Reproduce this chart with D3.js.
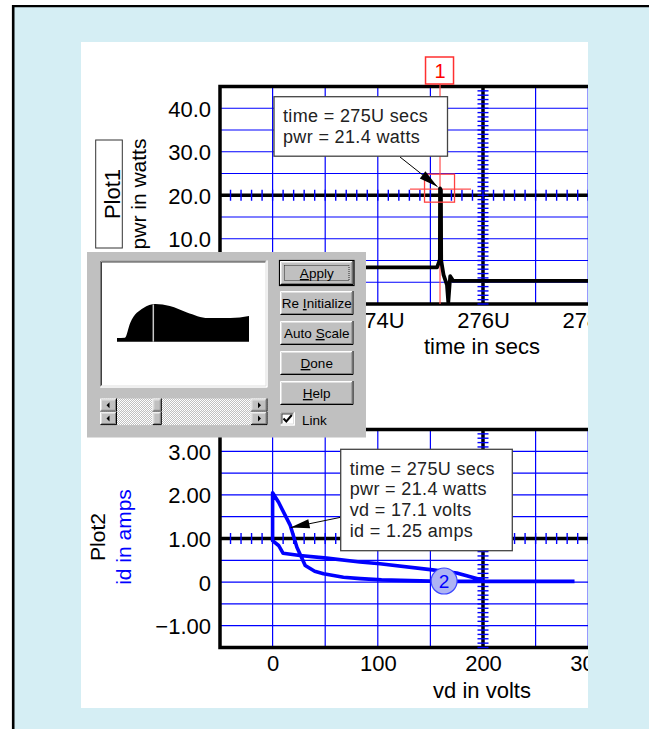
<!DOCTYPE html>
<html>
<head>
<meta charset="utf-8">
<script src="https://cdn.jsdelivr.net/npm/d3@7"></script>
<style>
  body { margin: 0; background: #fff; }
  text { font-family: "Liberation Sans", Arial, sans-serif; }
</style>
</head>
<body>
<div id="chart"></div>
<script>
// ---- values ----

// Plot1: pwr (watts) against time (micro seconds)
let pwrTime  = [271.0, 275.126, 275.180, 275.183, 275.200, 275.205, 275.250, 275.315, 275.340, 275.358, 275.377, 275.434, 278.0];
let pwrWatts = [3.42, 3.42, 5.2, 21.6, 21.2, 5.0, 1.7, -0.6, -4.6, -1.7, 1.4, 0.3, 0.3];

// Plot2: id (amps) against vd (volts), one closed-ish loop
let idVolts = [200, 175, 152, 102, 83, 51.5, 26, 10, 5.7, 0, 0, 5.7, 16.8, 23.1, 31, 40, 48.4, 67.3, 83.4, 103.5, 158.6, 287];
let idAmps  = [0.04, 0.21, 0.28, 0.42, 0.46, 0.55, 0.61, 0.66, 0.84, 0.95, 2.05, 1.83, 1.30, 0.80, 0.38, 0.25, 0.19, 0.11, 0.08, 0.05, 0.016, 0.016];

// tick labels (those hidden under the dialog in the original are left out)
let topYTicks = [40, 30, 20, 10];
let topXTicks = [274, 276, 278];
let botYTicks = [3, 2, 1, 0, -1];
let botXTicks = [0, 100, 200, 300];

// cursor readouts
let cursor1 = { time: 275.183, pwr: 21.4 };
let cursor2 = { vd: 17.1, id: 1.25 };
let marker2 = { vd: 163, id: 0.025 };
let tip1Lines = ["time = 275U secs", "pwr = 21.4 watts"];
let tip2Lines = ["time = 275U secs", "pwr = 21.4 watts", "vd = 17.1 volts", "id = 1.25 amps"];

// scaling dialog: thumbnail of the whole waveform
let previewT = [0, 6, 10, 20, 29, 40, 53, 69, 86, 100];
let previewV = [0.9, 1.0, 4.7, 8.4, 9.4, 8.9, 7.3, 5.9, 5.9, 6.4];
let previewCursor = 27.5;
let buttonLabels = ["Apply", "Re Initialize", "Auto Scale", "Done", "Help"];
let buttonKeys   = [0, 3, 5, 0, 0];

// ---- layout ----
let svgWidth = 649, svgHeight = 729;
let panel = { x: 81, y: 42, w: 507, h: 666 };
let plotLeft = 220, plotRight = 588;

let svg = d3.select("#chart").append("svg")
  .attr("width", svgWidth)
  .attr("height", svgHeight);

// window background + frame
svg.append("rect").attr("width", svgWidth).attr("height", svgHeight).attr("fill", "#fff");
svg.append("rect").attr("x", 13).attr("y", 6).attr("width", svgWidth - 13).attr("height", svgHeight - 6)
  .attr("fill", "#d5eef4");
svg.append("line").attr("x1", 13.2).attr("y1", 5).attr("x2", 13.2).attr("y2", svgHeight)
  .attr("stroke", "#000").attr("stroke-width", 2.6);
svg.append("line").attr("x1", 12).attr("y1", 6.2).attr("x2", svgWidth).attr("y2", 6.2)
  .attr("stroke", "#000").attr("stroke-width", 2.2);

let defs = svg.append("defs");
defs.append("clipPath").attr("id", "panelClip")
  .append("rect").attr("x", panel.x).attr("y", panel.y).attr("width", panel.w).attr("height", panel.h);

let chart = svg.append("g").attr("clip-path", "url(#panelClip)");
chart.append("rect").attr("x", panel.x).attr("y", panel.y).attr("width", panel.w).attr("height", panel.h)
  .attr("fill", "#fff");

// scales (both plots share the same horizontal pixel grid)
let xTop = d3.scaleLinear().domain([271, 276]).range([plotLeft, 483]);
let yTop = d3.scaleLinear().domain([-5, 45]).range([304, 86.5]);
let xBot = d3.scaleLinear().domain([-50, 200]).range([plotLeft, 483]);
let yBot = d3.scaleLinear().domain([-1.5, 3.5]).range([647.5, 429.5]);

function drawPlot(g, x, y, o) {
  let x0 = x.range()[0];
  let yb = y.range()[0], yt = y.range()[1];

  // grid
  g.selectAll(null).data(o.gridX).enter().append("line")
    .attr("x1", d => x(d)).attr("x2", d => x(d))
    .attr("y1", yt).attr("y2", yb)
    .attr("stroke", "#0000ff").attr("stroke-width", 1.2);
  g.selectAll(null).data(o.gridY).enter().append("line")
    .attr("x1", x0).attr("x2", plotRight + 5)
    .attr("y1", d => y(d)).attr("y2", d => y(d))
    .attr("stroke", "#0000ff").attr("stroke-width", 1.2);

  // frame (left, top, bottom)
  g.append("path")
    .attr("d", `M${plotRight + 5},${yt}H${x0}V${yb}H${plotRight + 5}`)
    .attr("fill", "none").attr("stroke", "#000").attr("stroke-width", 3.5);

  // heavy axes through the origin point
  g.append("line").attr("x1", x0).attr("x2", plotRight + 5)
    .attr("y1", y(o.axisY)).attr("y2", y(o.axisY))
    .attr("stroke", "#000").attr("stroke-width", 3.5);
  g.append("line").attr("x1", x(o.axisX)).attr("x2", x(o.axisX))
    .attr("y1", yt).attr("y2", yb)
    .attr("stroke", "#000").attr("stroke-width", 3.5);

  // minor ticks along the heavy axes
  g.selectAll(null).data(o.minorX).enter().append("line")
    .attr("x1", d => x(d)).attr("x2", d => x(d))
    .attr("y1", y(o.axisY) - 5.5).attr("y2", y(o.axisY) + 5.5)
    .attr("stroke", "#0000ff").attr("stroke-width", 1.4);
  g.selectAll(null).data(o.minorY).enter().append("line")
    .attr("x1", x(o.axisX) - 5.5).attr("x2", x(o.axisX) + 5.5)
    .attr("y1", d => y(d)).attr("y2", d => y(d))
    .attr("stroke", "#0000ff").attr("stroke-width", 1.4);

  // tick labels via d3 axes
  let yAxis = d3.axisLeft(y).tickValues(o.yTicks).tickSize(0).tickPadding(0).tickFormat(o.yFormat);
  let ya = g.append("g").attr("transform", `translate(${x0 - 9},0)`).call(yAxis);
  let xAxis = d3.axisBottom(x).tickValues(o.xTicks).tickSize(0).tickPadding(0).tickFormat(o.xFormat);
  let xa = g.append("g").attr("transform", `translate(0,${yb + 8})`).call(xAxis);
  [ya, xa].forEach(a => {
    a.select(".domain").remove();
    a.selectAll("text").attr("font-size", 22).attr("fill", "#000")
      .attr("font-family", '"Liberation Sans", Arial, sans-serif');
  });
  ya.selectAll("text").attr("dy", "0.36em");
  xa.selectAll("text").attr("dy", "0.71em");

  g.append("text").attr("x", x(o.axisX) - 1).attr("y", yb + 50)
    .attr("text-anchor", "middle").attr("font-size", 22).text(o.xTitle);
}

// ---- Plot1 ----
let plot1 = chart.append("g");
drawPlot(plot1, xTop, yTop, {
  gridX: d3.range(272, 279, 1), gridY: d3.range(0, 45, 5),
  axisX: 276, axisY: 20,
  minorX: d3.range(271.2, 278.4, 0.2), minorY: d3.range(-5, 45, 1),
  yTicks: topYTicks, yFormat: d3.format(".1f"),
  xTicks: topXTicks, xFormat: d => d + "U",
  xTitle: "time in secs"
});

// cursor 1 (drawn under the trace)
let cx1 = xTop(cursor1.time), cy1 = yTop(cursor1.pwr);
plot1.append("line").attr("x1", cx1).attr("x2", cx1).attr("y1", 84).attr("y2", yTop.range()[0])
  .attr("stroke", "#ff5050").attr("stroke-width", 1.2);
plot1.append("line").attr("x1", cx1 - 30).attr("x2", cx1 + 31).attr("y1", cy1).attr("y2", cy1)
  .attr("stroke", "#ff5050").attr("stroke-width", 1.2);

plot1.append("path")
  .datum(d3.zip(pwrTime, pwrWatts))
  .attr("d", d3.line().x(d => xTop(d[0])).y(d => yTop(d[1])))
  .attr("fill", "none").attr("stroke", "#000").attr("stroke-width", 3.8)
  .attr("stroke-linejoin", "round");

plot1.append("rect").attr("x", cx1 - 15.5).attr("y", cy1 - 15).attr("width", 30).attr("height", 28)
  .attr("fill", "none").attr("stroke", "#ff4040").attr("stroke-width", 1.3);
plot1.append("rect").attr("x", cx1 - 14.5).attr("y", 57).attr("width", 28).attr("height", 27)
  .attr("fill", "#fff").attr("stroke", "#ff3030").attr("stroke-width", 1.5);
plot1.append("text").attr("x", cx1).attr("y", 77.5).attr("text-anchor", "middle")
  .attr("font-size", 20).attr("fill", "#ff0000").text("1");

// Plot1 side labels
plot1.append("rect").attr("x", 95.7).attr("y", 140).attr("width", 26.6).attr("height", 108)
  .attr("fill", "#fff").attr("stroke", "#333").attr("stroke-width", 1);
plot1.append("text").attr("transform", "translate(119.5,194) rotate(-90)")
  .attr("text-anchor", "middle").attr("font-size", 22).text("Plot1");
plot1.append("text").attr("transform", "translate(145.5,194) rotate(-90)")
  .attr("text-anchor", "middle").attr("font-size", 21).text("pwr in watts");

// ---- Plot2 ----
let plot2 = chart.append("g");
drawPlot(plot2, xBot, yBot, {
  gridX: d3.range(0, 301, 50), gridY: d3.range(-1, 3.1, 0.5),
  axisX: 200, axisY: 1,
  minorX: d3.range(-40, 310, 10), minorY: d3.range(-1.5, 3.5, 0.1),
  yTicks: botYTicks, yFormat: d => d === 0 ? "0" : d3.format(".2f")(d),
  xTicks: botXTicks, xFormat: d => String(d),
  xTitle: "vd in volts"
});
plot2.append("path")
  .datum(d3.zip(idVolts, idAmps))
  .attr("d", d3.line().x(d => xBot(d[0])).y(d => yBot(d[1])))
  .attr("fill", "none").attr("stroke", "#0000ff").attr("stroke-width", 3.6)
  .attr("stroke-linejoin", "round");

plot2.append("text").attr("transform", "translate(105,537) rotate(-90)")
  .attr("text-anchor", "middle").attr("font-size", 21).text("Plot2");
plot2.append("text").attr("transform", "translate(131,537) rotate(-90)")
  .attr("text-anchor", "middle").attr("font-size", 21).attr("fill", "#0000ff").text("id in amps");

// marker 2
plot2.append("circle").attr("cx", xBot(marker2.vd)).attr("cy", yBot(marker2.id)).attr("r", 13)
  .attr("fill", "#aeb4f4").attr("stroke", "#3c46ff").attr("stroke-width", 1.2);
plot2.append("text").attr("x", xBot(marker2.vd)).attr("y", yBot(marker2.id) + 6.5)
  .attr("text-anchor", "middle").attr("font-size", 19).attr("fill", "#0000ff").text("2");

// ---- readout boxes with arrows ----
function arrow(g, x1, y1, x2, y2) {
  g.append("line").attr("x1", x1).attr("y1", y1).attr("x2", x2).attr("y2", y2)
    .attr("stroke", "#000").attr("stroke-width", 1);
  let a = Math.atan2(y2 - y1, x2 - x1), L = 19, W = 4.5;
  let bx = x2 - L * Math.cos(a), by = y2 - L * Math.sin(a);
  g.append("path")
    .attr("d", `M${x2},${y2}L${bx - W * Math.sin(a)},${by + W * Math.cos(a)}L${bx + W * Math.sin(a)},${by - W * Math.cos(a)}Z`)
    .attr("fill", "#000");
}
function readout(g, x, y, w, h, lines, lineH) {
  g.append("rect").attr("x", x).attr("y", y).attr("width", w).attr("height", h)
    .attr("fill", "#fff").attr("stroke", "#444").attr("stroke-width", 1.3);
  g.selectAll(null).data(lines).enter().append("text")
    .attr("x", x + 9).attr("y", (d, i) => y + 25.5 + i * lineH)
    .attr("font-size", 18).attr("letter-spacing", 0.35).attr("fill", "#222")
    .text(d => d);
}
arrow(chart, 400, 157, cx1 - 2.5, cy1 - 2.5);
readout(chart, 274, 96.7, 173.5, 59.5, tip1Lines, 21);

arrow(chart, 340.7, 517.3, xBot(cursor2.vd), yBot(cursor2.id));
readout(chart, 340.7, 449.3, 171.6, 101.4, tip2Lines, 20.6);

// ---- Scaling dialog (Windows 95 look) ----
let dlg = svg.append("g");
let dlgBox = { x: 87, y: 252, w: 279, h: 185.5 };
dlg.append("rect").attr("x", dlgBox.x).attr("y", dlgBox.y).attr("width", dlgBox.w).attr("height", dlgBox.h)
  .attr("fill", "#c0c0c0");

function bevel(g, x, y, w, h, sunken, fill) {
  g.append("rect").attr("x", x).attr("y", y).attr("width", w).attr("height", h).attr("fill", fill || "#c0c0c0");
  let hi = sunken ? "#808080" : "#ffffff";
  let lo = sunken ? "#ffffff" : "#000000";
  let lo2 = sunken ? "#dfdfdf" : "#808080";
  let hi2 = sunken ? "#404040" : "#dfdfdf";
  g.append("path").attr("d", `M${x + 0.5},${y + h - 1}V${y + 0.5}H${x + w - 1}`).attr("stroke", hi).attr("fill", "none");
  g.append("path").attr("d", `M${x + 1.5},${y + h - 2}V${y + 1.5}H${x + w - 2}`).attr("stroke", hi2).attr("fill", "none");
  g.append("path").attr("d", `M${x + 0.5},${y + h - 0.5}H${x + w - 0.5}V${y}`).attr("stroke", lo).attr("fill", "none");
  g.append("path").attr("d", `M${x + 1.5},${y + h - 1.5}H${x + w - 1.5}V${y + 1}`).attr("stroke", lo2).attr("fill", "none");
}

// preview window
let prevBox = { x: 100, y: 260.5, w: 167.5, h: 127 };
bevel(dlg, prevBox.x, prevBox.y, prevBox.w, prevBox.h, true, "#fff");
let xPrev = d3.scaleLinear().domain([0, 100]).range([117, 249]);
let yPrev = d3.scaleLinear().domain([0, 10]).range([341.7, 301.7]);
dlg.append("path")
  .datum(d3.zip(previewT, previewV))
  .attr("d", d3.area().x(d => xPrev(d[0])).y0(yPrev(0)).y1(d => yPrev(d[1])).curve(d3.curveMonotoneX))
  .attr("fill", "#000");
dlg.append("line").attr("x1", xPrev(previewCursor)).attr("x2", xPrev(previewCursor))
  .attr("y1", yPrev(0)).attr("y2", yPrev(9.3))
  .attr("stroke", "#c8c8c8").attr("stroke-width", 1.5);

// scroll bars
let pat = defs.append("pattern").attr("id", "dither")
  .attr("width", 2).attr("height", 2).attr("patternUnits", "userSpaceOnUse");
pat.append("rect").attr("width", 2).attr("height", 2).attr("fill", "#c0c0c0");
pat.append("rect").attr("width", 1).attr("height", 1).attr("fill", "#fff");
pat.append("rect").attr("x", 1).attr("y", 1).attr("width", 1).attr("height", 1).attr("fill", "#fff");
[0, 1].forEach(i => {
  let sy = 398.5 + i * 13.3, sh = 13.3;
  dlg.append("rect").attr("x", prevBox.x).attr("y", sy).attr("width", prevBox.w).attr("height", sh)
    .attr("fill", "url(#dither)");
  bevel(dlg, prevBox.x, sy, 17, sh, false);
  bevel(dlg, prevBox.x + prevBox.w - 17, sy, 17, sh, false);
  bevel(dlg, xPrev(previewCursor) - 1, sy, 9.5, sh, false);
  let my = sy + sh / 2;
  dlg.append("path").attr("d", `M${prevBox.x + 6.5},${my}l3,-3v6z`).attr("fill", "#000");
  dlg.append("path").attr("d", `M${prevBox.x + prevBox.w - 6.5},${my}l-3,-3v6z`).attr("fill", "#000");
});

// buttons
let yBtn = d3.scaleBand().domain(buttonLabels).range([258, 408]).paddingInner(0.2).paddingOuter(0.1);
let btnX = 280, btnW = 73.5;
buttonLabels.forEach((label, i) => {
  let by = yBtn(label), bh = yBtn.bandwidth();
  if (i === 0) {
    dlg.append("rect").attr("x", btnX - 0.5).attr("y", by - 0.5).attr("width", btnW + 1).attr("height", bh + 1)
      .attr("fill", "none").attr("stroke", "#000").attr("stroke-width", 1.2);
  }
  bevel(dlg, btnX, by, btnW, bh, false);
  if (i === 0) {
    dlg.append("rect").attr("x", btnX + 4.5).attr("y", by + 4.5).attr("width", btnW - 9).attr("height", bh - 9)
      .attr("fill", "none").attr("stroke", "#000").attr("stroke-width", 0.8).attr("stroke-dasharray", "1,1");
  }
  let t = dlg.append("text").attr("x", btnX + btnW / 2).attr("y", by + bh / 2 + 5)
    .attr("text-anchor", "middle").attr("font-size", 13.5).attr("fill", "#000");
  let k = buttonKeys[i];
  t.append("tspan").text(label.slice(0, k));
  t.append("tspan").attr("text-decoration", "underline").text(label.charAt(k));
  t.append("tspan").text(label.slice(k + 1));
});

// Link check box
bevel(dlg, 280.5, 412.5, 14.5, 13, true, "#fff");
dlg.append("path").attr("d", "M283.5,418.5l2.8,3l5.5,-6.5").attr("fill", "none")
  .attr("stroke", "#000").attr("stroke-width", 2);
dlg.append("text").attr("x", 302).attr("y", 424.5).attr("font-size", 13.5).text("Link");
</script>
</body>
</html>
